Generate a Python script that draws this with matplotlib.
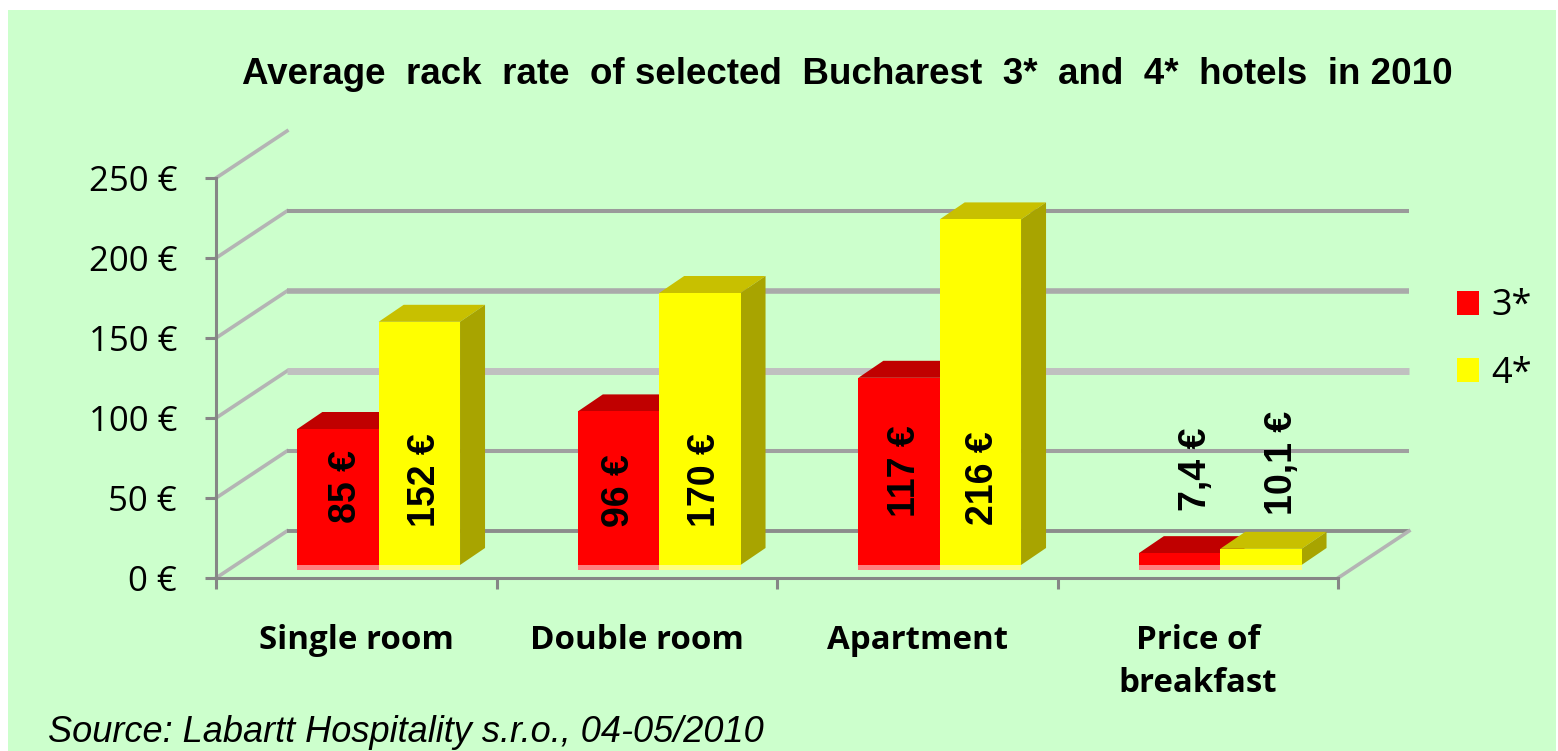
import matplotlib
matplotlib.use("Agg")
import matplotlib.pyplot as plt
from matplotlib.patches import Patch, Polygon, Rectangle

categories = ["Single room", "Double room", "Apartment", "Price of\nbreakfast"]
rates_3star = [85, 96, 117, 7.4]
rates_4star = [152, 170, 216, 10.1]
labels_3star = ["85 €", "96 €", "117 €", "7,4 €"]
labels_4star = ["152 €", "170 €", "216 €", "10,1 €"]
y_ticks = [0, 50, 100, 150, 200, 250]

# layout in pixels, the chart is a fake 3d one
W, H = 1558, 751
LEFT, RIGHT, BOTTOM, TOP = 216, 1338, 578, 178
PX_X = (RIGHT - LEFT) / 4
PX_Y = (BOTTOM - TOP) / 250

WALL_DX, WALL_DY = 71 / PX_X, 47 / PX_Y
BAR_DX, BAR_DY = 25 / PX_X, 17 / PX_Y
LIFT = 13 / PX_Y
BAR_W = 0.29
BAR_X0 = 0.29

grid_widths = [2.8, 2.9, 5, 4, 2.9]
grid_colors = ["#8c8c8c", "#a0a0a0", "#c0c0c0", "#aaaaaa", "#9a9a9a"]

# label position above the floor, in euro
label_y_3star = [26, 24, 30, 34]
label_y_4star = [24, 24, 25, 31]
label_dx_3star = [0.03, 0.0, 0.02, 0.06]
label_dx_4star = [0.02, 0.02, 0.01, 0.075]


def draw_bar(ax, x, value, front, top, side, strip):
    ax.add_patch(Polygon(
        [(x, LIFT + value), (x + BAR_W, LIFT + value),
         (x + BAR_W + BAR_DX, LIFT + value + BAR_DY), (x + BAR_DX, LIFT + value + BAR_DY)],
        closed=True, fc=top, ec="none", zorder=3, clip_on=False,
    ))
    ax.add_patch(Polygon(
        [(x + BAR_W, LIFT), (x + BAR_W + BAR_DX, LIFT + BAR_DY),
         (x + BAR_W + BAR_DX, LIFT + value + BAR_DY), (x + BAR_W, LIFT + value)],
        closed=True, fc=side, ec="none", zorder=3, clip_on=False,
    ))
    ax.bar(x, value, BAR_W, bottom=LIFT, align="edge", color=front, zorder=4, clip_on=False)
    ax.bar(x, 3, BAR_W, bottom=LIFT - 3, align="edge", color=strip, zorder=4, clip_on=False)


fig = plt.figure(figsize=(W / 100, H / 100), dpi=100, facecolor="white")
fig.add_artist(Rectangle((8 / W, 0), (W - 10) / W, 1 - 10 / H, transform=fig.transFigure,
                         fc="#CCFFCC", ec="none", zorder=-10))

ax = fig.add_axes([LEFT / W, 1 - BOTTOM / H, (RIGHT - LEFT) / W, (BOTTOM - TOP) / H])
ax.patch.set_alpha(0)
ax.set_xlim(0, 4)
ax.set_ylim(0, 250)

for spine in ["top", "right"]:
    ax.spines[spine].set_visible(False)
for spine in ["left", "bottom"]:
    ax.spines[spine].set_color("#868686")
    ax.spines[spine].set_linewidth(2.2)
    ax.spines[spine].set_zorder(2)

# walls
for i, v in enumerate(y_ticks):
    ax.plot([0, WALL_DX], [v, v + WALL_DY], color="#b4b4b4", lw=2.6,
            zorder=1, clip_on=False)
    if v < 250:
        ax.plot([WALL_DX, 4 + WALL_DX], [v + WALL_DY, v + WALL_DY], color=grid_colors[i],
                lw=grid_widths[i], zorder=1, clip_on=False, solid_capstyle="butt")
ax.plot([4, 4 + WALL_DX], [0, WALL_DY], color="#b4b4b4", lw=2.6,
        zorder=1, clip_on=False)

for i in range(len(categories)):
    x = i + BAR_X0
    draw_bar(ax, x, rates_3star[i], "#FF0000", "#C00000", "#A00000", "#FF8080")
    draw_bar(ax, x + BAR_W, rates_4star[i], "#FFFF00", "#C8C000", "#A8A400", "#FFFF80")
    ax.text(x + BAR_W / 2 + label_dx_3star[i], LIFT + label_y_3star[i], labels_3star[i],
            rotation=90, ha="center", va="bottom", fontsize=27, fontweight="bold",
            family="Liberation Sans", zorder=6, clip_on=False)
    ax.text(x + 1.5 * BAR_W + label_dx_4star[i], LIFT + label_y_4star[i], labels_4star[i],
            rotation=90, ha="center", va="bottom", fontsize=27, fontweight="bold",
            family="Liberation Sans", zorder=6, clip_on=False)

ax.set_yticks(y_ticks)
ax.set_yticklabels([f"{v} €" for v in y_ticks], family="Open Sans", fontsize=25)
ax.tick_params(axis="y", length=8, width=2.2, color="#868686", pad=20)

ax.set_xticks(range(5))
ax.set_xticklabels([])
ax.tick_params(axis="x", which="major", length=8, width=2.2, color="#868686")
ax.set_xticks([i + 0.5 for i in range(4)], minor=True)
ax.set_xticklabels(categories, minor=True, family="Open Sans", fontweight="bold",
                   fontsize=23.8, linespacing=1.4)
ax.tick_params(axis="x", which="minor", length=0, pad=33)

handles = [Patch(fc="#FF0000", ec="none", label="3*"), Patch(fc="#FFFF00", ec="none", label="4*")]
fig.legend(handles=handles, loc="center left", bbox_to_anchor=(1457 / W, 1 - 340 / H),
           frameon=False, prop={"family": "Open Sans", "size": 26}, handlelength=0.61,
           handleheight=0.64, handletextpad=0.33, labelspacing=0.86, borderpad=0,
           borderaxespad=0)

fig.text(847 / W, 1 - 75 / H, "Average  rack  rate  of selected  Bucharest  3*  and  4*  hotels  in 2010",
         ha="center", va="center", family="Liberation Sans", fontweight="bold", fontsize=26.5)
fig.text(48 / W, 1 - 742 / H, "Source: Labartt Hospitality s.r.o., 04-05/2010",
         ha="left", va="baseline", family="Liberation Sans", style="italic", fontsize=26)

fig.savefig("out.png", dpi=100)
